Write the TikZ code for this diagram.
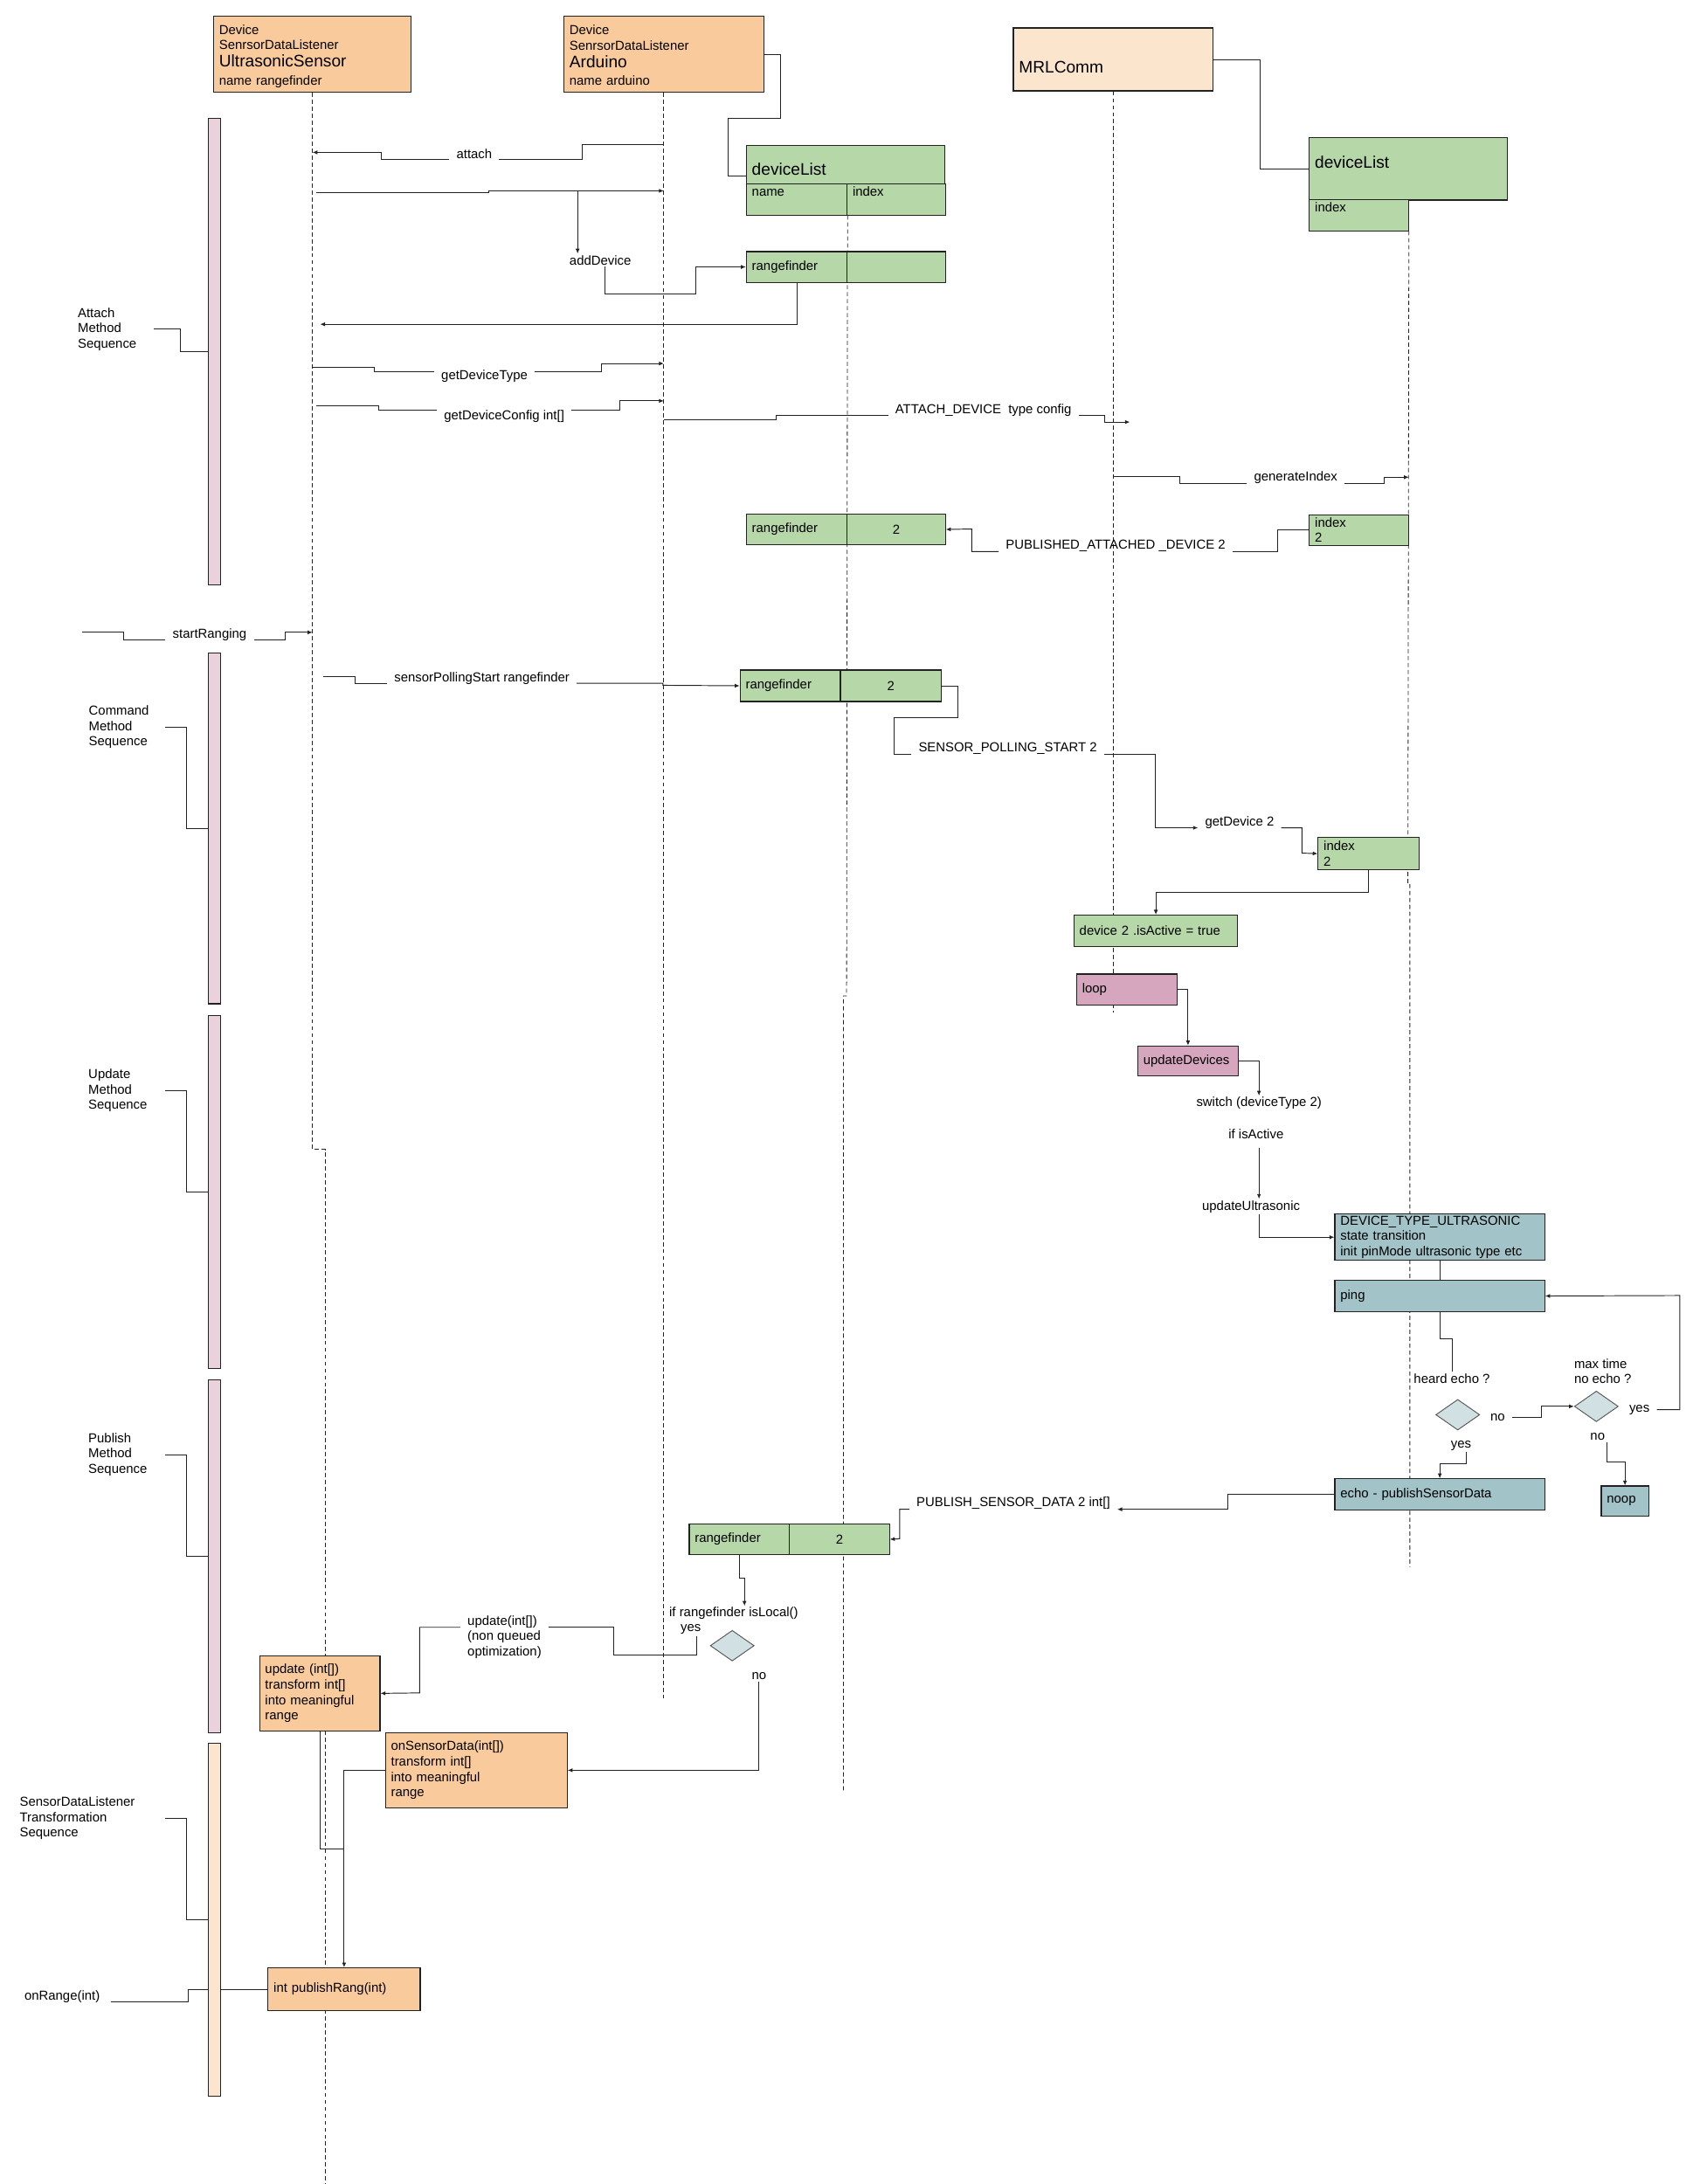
\documentclass[tikz,border=0pt]{standalone}
\usepackage{fontspec}
\setmainfont{Liberation Sans}
\usetikzlibrary{arrows.meta, shapes.geometric, backgrounds}
\definecolor{corange}{HTML}{F9CB9C}
\definecolor{cpeach}{HTML}{FCE5CD}
\definecolor{cgreen}{HTML}{B6D7A8}
\definecolor{cpink}{HTML}{EAD1DC}
\definecolor{cmauve}{HTML}{D5A6BD}
\definecolor{cteal}{HTML}{A2C4C9}
\definecolor{cdia}{HTML}{D0E0E3}
\definecolor{cedge}{HTML}{222222}
\definecolor{cgrey}{HTML}{595959}
\newcommand\bigtxt{\fontsize{12}{14}\selectfont}
\tikzset{
  every picture/.style={font=\fontsize{9.35}{11}\selectfont},
  box/.style={draw=cedge, fill=#1, line width=0.7pt, anchor=north west, inner xsep=4pt, inner ysep=0pt, align=left},
  box/.default=cgreen,
  sz/.style 2 args={text width=#1pt, minimum height=#2pt},
  txttop/.style 2 args={text height=#1pt, text depth=#2pt},
  bar/.style={draw=cedge, fill=#1, line width=0.7pt, anchor=north west, inner sep=0pt, minimum width=8.7pt},
  dia/.style={diamond, draw=cgrey, fill=cdia, line width=0.6pt, inner sep=0pt, minimum width=31.5pt, minimum height=22pt},
  lbl/.style={inner xsep=5pt, inner ysep=1pt},
  side/.style={anchor=west, inner sep=0pt, align=left, text width=#1pt},
  wire/.style={draw=cedge, line width=0.6pt},
  msg/.style={wire, -{Latex[length=3.5pt, width=3pt]}},
  life/.style={draw=cedge, line width=0.5pt, dash pattern=on 3pt off 2pt},
}

\begin{document}
\begin{tikzpicture}[x=1pt, y=-1pt]
  \useasboundingbox (0,0) rectangle (1220,1568);
  % participants
  \node[box=corange, text width=134pt, txttop={13.2}{41.8}] (us) at (153,11) {Device\\SenrsorDataListener\\[1.6pt]{\bigtxt UltrasonicSensor}\\[1.9pt]name rangefinder};
  \node[box=corange, text width=135.5pt, txttop={13}{41.5}] (ard) at (404.5,11.5) {Device\\SenrsorDataListener\\[1.6pt]{\bigtxt Arduino}\\[1.9pt]name arduino};
  \node[box=cpeach, text width=135.3pt, txttop={32.6}{12.6}] (mrl) at (727.2,19.7) {\bigtxt MRLComm};
  \node[box, text width=134.2pt, txttop={21.6}{5.8}] (adl) at (535.5,104) {\bigtxt deviceList};
  \node[box, text width=64.3pt, txttop={9}{13.6}] (adname) at (535.5,131.4) {name};
  \node[box, text width=62.6pt, txttop={9}{13.6}] (adindex) at (607.8,131.4) {index};
  \node[box, text width=134.2pt, txttop={21.7}{22.9}] (mdl) at (939.7,98.7) {\bigtxt deviceList};
  \node[box, text width=63.1pt, txttop={9.3}{13.3}] (mdindex) at (939.7,142.7) {index};
  \node[box, sz={64.3}{22}] (arf1) at (535.5,180.3) {rangefinder};
  \node[box, sz={62.6}{22}] (arf1v) at (607.8,180.3) {};
  \node[box, sz={63.1}{22}] (mix1) at (939.7,369.2) {index\\2};
  \node[box, sz={64.3}{21.5}] (arf2) at (535.5,369) {rangefinder};
  \node[box, sz={62.6}{21.5}, align=center] (arf2v) at (607.8,369) {2};
  \node[box, sz={64}{22.6}] (arf3) at (531,480.7) {rangefinder};
  \node[box, sz={64.4}{22.6}, align=center] (arf3v) at (603,480.7) {2};
  \node[box, sz={64.3}{23}] (mix2) at (946,601) {index\\2};
  \node[box, sz={109.6}{22.3}] (active) at (770.7,656.7) {device 2 .isActive = true};
  \node[box=cmauve, sz={64.2}{22}] (loop) at (772.6,699) {loop};
  \node[box=cmauve, sz={64.2}{21.7}] (upd) at (816.5,750.6) {updateDevices};
  \node[box=cteal, sz={142.7}{33.2}] (dtu) at (958,871.3) {DEVICE\_TYPE\_ULTRASONIC\\state transition\\init pinMode ultrasonic type etc};
  \node[box=cteal, sz={142.7}{22.4}] (ping) at (958,918.9) {ping};
  \node[box=cteal, sz={142.7}{22.6}] (echo) at (958,1061.4) {echo - publishSensorData};
  \node[box=cteal, sz={26}{21.9}] (noop) at (1149.3,1066.5) {noop};
  \node[box, sz={64}{21.7}] (arf4) at (494.5,1093.9) {rangefinder};
  \node[box, sz={63.7}{21.7}, align=center] (arf4v) at (566.5,1093.9) {2};
  \node[box=corange, sz={78.5}{54}] (updbox) at (186,1188.4) {update (int[])\\transform int[]\\into meaningful\\range};
  \node[box=corange, sz={122.5}{54}] (onsd) at (276.4,1243.6) {onSensorData(int[])\\transform int[]\\into meaningful\\range};
  \node[box=corange, sz={101.2}{30.7}] (pub) at (192.1,1412.5) {int publishRang(int)};
  \node[dia] (dia1) at (1046.6,1015.7) {};
  \node[dia] (dia2) at (1146.1,1009.7) {};
  \node[dia] (dia3) at (525.7,1181.5) {};
  % sequence bars
  \node[bar=cpink, minimum height=334.9pt] (bar1) at (149.5,84.5) {};
  \node[bar=cpink, minimum height=252pt] (bar2) at (149.5,468.3) {};
  \node[bar=cpink, minimum height=253.4pt] (bar3) at (149.5,729) {};
  \node[bar=cpink, minimum height=253.3pt] (bar4) at (149.5,990.3) {};
  \node[bar=cpeach, minimum height=253.6pt] (bar5) at (149.5,1251) {};
  \node[side=54.5] (sq1) at (55.7,236.4) {Attach\\Method\\Sequence};
  \node[side=54.8] (sq2) at (63.6,522.2) {Command\\Method\\Sequence};
  \node[side=54.9] (sq3) at (63.3,783) {Update\\Method\\Sequence};
  \node[side=54.9] (sq4) at (63.3,1044.3) {Publish\\Method\\Sequence};
  \node[side=104.2] (sq5) at (14,1305.3) {SensorDataListener\\Transformation\\Sequence};
  \node[side=61.6] (orl) at (17.4,1433.6) {onRange(int)};
  % message labels
  \node[lbl] (attach) at (340.5,110.5) {attach};
  \node[lbl] (addev) at (431,186.7) {addDevice};
  \node[lbl] (gdt) at (347.8,270.4) {getDeviceType};
  \node[lbl] (gdc) at (362,298.7) {getDeviceConfig int[]};
  \node[lbl] (atd) at (706,294.5) {ATTACH\_DEVICE\ \ type config};
  \node[lbl] (gi) at (930.3,343) {generateIndex};
  \node[lbl] (pad) at (801,392) {PUBLISHED\_ATTACHED \_DEVICE 2};
  \node[lbl] (sr) at (150.5,455.8) {startRanging};
  \node[lbl] (sps) at (346,487) {sensorPollingStart rangefinder};
  \node[lbl] (spst) at (723.5,537.4) {SENSOR\_POLLING\_START 2};
  \node[lbl] (gd2) at (890,590.8) {getDevice 2};
  \node[lbl] (sw) at (903.9,792.2) {switch (deviceType 2)};
  \node[lbl] (ifa) at (901.8,814.4) {if isActive};
  \node[lbl] (uu) at (898.2,866.3) {updateUltrasonic};
  \node[lbl] (he) at (1042.4,989.6) {heard echo ?};
  \node[lbl] (no1) at (1075.3,1017.5) {no};
  \node[lbl] (yes1) at (1049,1037.9) {yes};
  \node[lbl, anchor=west, align=left] (mt) at (1125,984.6) {max time\\no echo ?};
  \node[lbl] (yes2) at (1177,1012) {yes};
  \node[lbl] (no2) at (1147,1031.6) {no};
  \node[lbl] (psd) at (727.5,1079) {PUBLISH\_SENSOR\_DATA 2 int[]};
  \node[lbl] (isl) at (526.8,1158.5) {if rangefinder isLocal()};
  \node[lbl] (yes3) at (495.9,1169.8) {yes};
  \node[lbl] (no3) at (545,1203.5) {no};
  \node[lbl, anchor=west, align=left] (uq) at (330.5,1175.4) {update(int[])\\(non queued\\optimization)};
  \coordinate (split) at (414.7,137);
  \coordinate (srin) at (59,454);
  % lifelines
  \begin{scope}[on background layer]
    \draw[life] (us.south) -- (us |- 0,825.1) -| (233.5,1568);
    \draw[life] (ard.south) -- (ard |- 0,1219.2);
    \draw[life] (adname.south east) -- (607.8,715) -| (605.5,1286);
    \draw[life] (mrl.south) -- (mrl |- 0,726.8);
    \draw[life] (mdindex.south east) -- (1010.8,633.7) -| (1012.2,1125);
  \end{scope}
  % connectors
  \draw[wire] (ard.east) -| (560.5,85) -| (522.8,126.1) -- (adl.west |- 0,126.1);
  \draw[wire] (mrl.east) -| ([xshift=-34.8pt]mdl.west) -- (mdl.west);
  \draw[wire] (sq1.east) -| ([xshift=-19.7pt]bar1.west) -- (bar1.west);
  \draw[wire] (sq2.east) -| ([xshift=-15.5pt]bar2.west) -- (bar2.west);
  \draw[wire] (sq3.east) -| ([xshift=-15.6pt]bar3.west) -- (bar3.west);
  \draw[wire] (sq4.east) -| ([xshift=-15.6pt]bar4.west) -- (bar4.west);
  \draw[wire] (sq5.east) -| ([xshift=-15.6pt]bar5.west) -- (bar5.west);
  \draw[wire] (orl.east |- 0,1437.5) -| ([xshift=-14.2pt]bar5.west |- pub.west) -- (bar5.west |- pub.west);
  \draw[wire] (bar5.east |- pub.west) -- (pub.west);
  \draw[wire] (ard |- 0,103.5) -| (417.7,114.4) -- (attach.east |- 0,114.4);
  \draw[msg] (attach.west |- 0,114.4) -| (274,109.4) -- (us |- 0,109.4);
  \draw[msg] ([xshift=3pt]us |- 0,138) -- (351,138) -- (351,137) -- (ard |- 0,137);
  \draw[msg] (split) -- (split |- addev.north);
  \draw[msg] ([xshift=3.5pt]addev.south) |- (499.6,210.8) |- (arf1.west);
  \draw[msg] (arf1.south) |- ([xshift=5.5pt]us |- 0,232.8);
  \draw[wire] (us |- 0,263.7) -| (268.8,267) -- (gdt.west |- 0,267);
  \draw[msg] (gdt.east |- 0,267) -| (432,261) -- (ard |- 0,261);
  \draw[wire] ([xshift=3pt]us |- 0,291.5) -| (271.6,294.5) -- (gdc.west |- 0,294.5);
  \draw[msg] (gdc.east |- 0,294.5) -| (444.7,287.8) -- (ard |- 0,287.8);
  \draw[wire] (ard |- 0,301.4) -| (557,298.2) -- (atd.west |- 0,298.2);
  \draw[msg] (atd.east |- 0,298.2) -| (793,303) -- ([xshift=12pt]mrl |- 0,303);
  \draw[wire] (mrl |- 0,342) -| (846.7,347) -- (gi.west |- 0,347);
  \draw[msg] (gi.east |- 0,347) -| (993.8,342.6) -- (mdindex.east |- 0,342.6);
  \draw[wire] (mix1.west) -| (917.4,396) -- (pad.east |- 0,396);
  \draw[msg] (pad.west |- 0,396) -| (697.7,379.8) -- (arf2v.east);
  \draw[wire] (srin) -| (89,459.4) -- (sr.west |- 0,459.4);
  \draw[msg] (sr.east |- 0,459.4) -| (205,454) -- (us |- 0,454);
  \draw[wire] ([xshift=8pt]us |- 0,485.5) -| (255,490.6) -- (sps.west |- 0,490.6);
  \draw[msg] (sps.east |- 0,490.6) -| (476,492) -- (arf3.west);
  \draw[wire] (arf3v.east) -| (687.9,515.3) -| (641.8,541.6) -- (spst.west |- 0,541.6);
  \draw[msg] (spst.east |- 0,541.6) -| (829.7,594.3) -- (gd2.west |- 0,594.3);
  \draw[msg] (gd2.east |- 0,594.3) -| (934.8,612.5) -- (mix2.west);
  \draw[msg] (mix2.south) -- ++(0,16) -| (active.north);
  \draw[msg] (loop.east) -| (upd.north);
  \draw[msg] (upd.east) -| (sw.north);
  \draw[msg, shorten <=5pt] (ifa.south -| sw.north) -- (uu.north -| sw.north);
  \draw[msg] (uu.south -| sw.north) |- (dtu.west);
  \draw[wire] (dtu.south) -- (ping.north);
  \draw[wire] (ping.south) -- ++(0,19) -| (he.north);
  \draw[msg] (no1.east) -| (1106.8,1009.7) -- (dia2.west);
  \draw[msg] ([xshift=4pt]yes1.south) -- ++(0,8) -| (echo.north);
  \draw[msg] (yes2.east) -| (1206,930.1) -- (ping.east);
  \draw[msg] ([xshift=6.5pt]no2.south) -- ++(0,14) -| (noop.north);
  \draw[msg] (echo.west) -| (881.5,1083.6) -- (psd.east |- 0,1083.6);
  \draw[msg] (psd.west |- 0,1083.6) -| (645.9,1104.75) -- (arf4v.east);
  \draw[msg] (arf4.south) -- ++(0,16.4) -| ([xshift=7.7pt]isl.north);
  \draw[wire] ([xshift=4pt]yes3.south) |- (440.5,1188.4) |- (uq.east |- 0,1168.3);
  \draw[msg] (uq.west |- 0,1168.3) -| (301.3,1215.4) -- (updbox.east);
  \draw[msg] (no3.south) |- (onsd.east);
  \draw[wire] (updbox.south) |- (pub.north |- 0,1327.7);
  \draw[msg] (onsd.west) -| (pub.north);
\end{tikzpicture}
\end{document}
